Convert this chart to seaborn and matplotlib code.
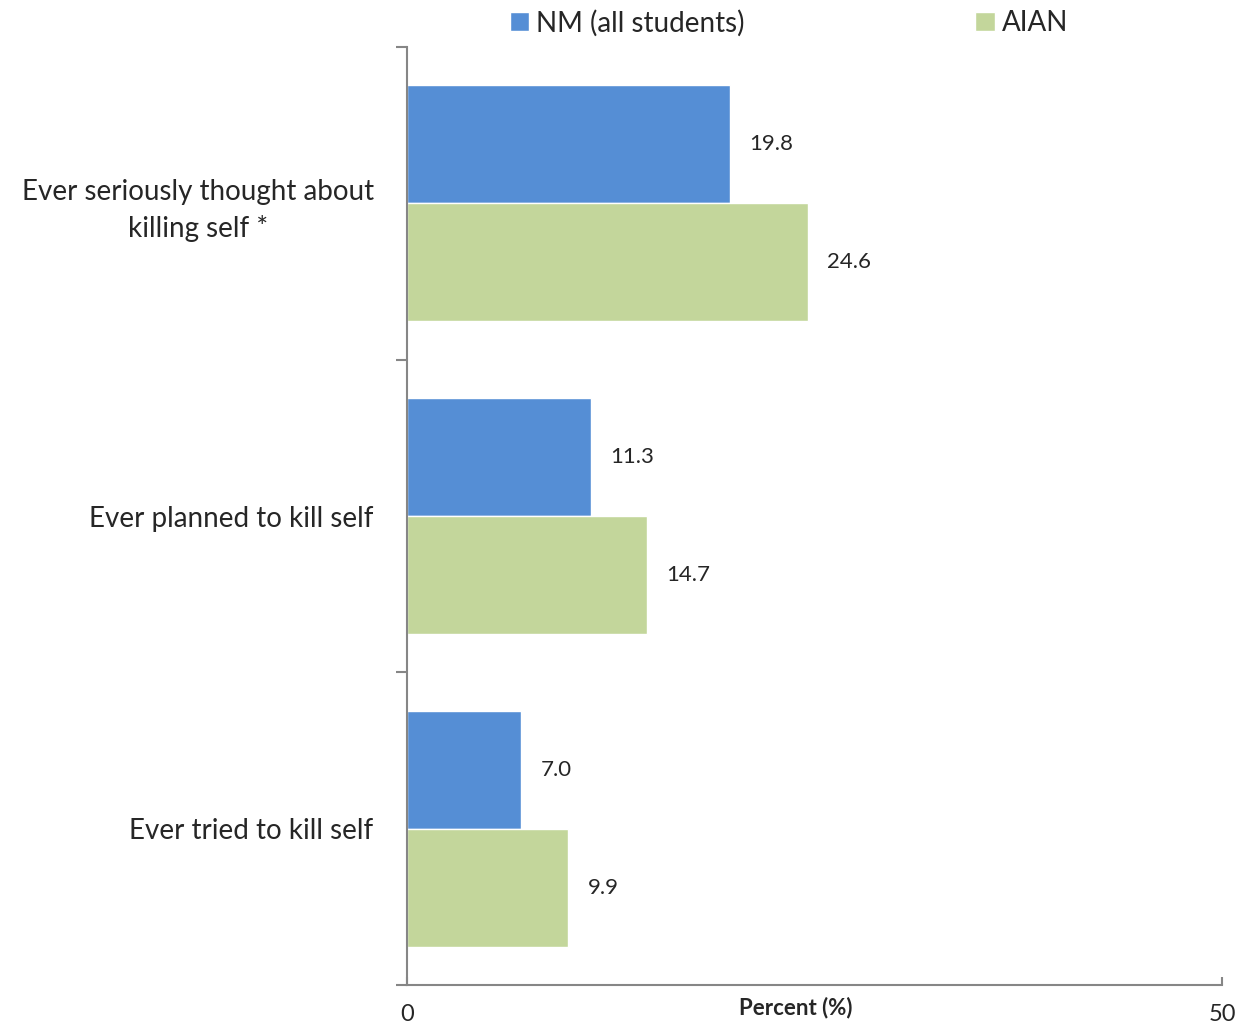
import matplotlib
matplotlib.use("Agg")
import matplotlib.pyplot as plt
import seaborn as sns
import pandas as pd
from matplotlib.patches import Patch

categories = ["Ever seriously thought about\nkilling self *", "Ever planned to kill self", "Ever tried to kill self"]
series_names = ["NM (all students)", "AIAN"]
nm_values = [19.8, 11.3, 7.0]
aian_values = [24.6, 14.7, 9.9]
colors = ["#558ED5", "#C3D69B"]

rows = []
for c, v in zip(categories, nm_values):
    rows.append({"cat": c, "group": series_names[0], "val": v})
for c, v in zip(categories, aian_values):
    rows.append({"cat": c, "group": series_names[1], "val": v})
df = pd.DataFrame(rows)

sns.set_style("white")
plt.rcParams['font.family'] = ['Lato', 'DejaVu Sans']

fig = plt.figure(figsize=(12.47, 10.28), dpi=100)
ax = fig.add_axes([407/1247, 43/1028, 815/1247, 938/1028])

sns.barplot(data=df, y="cat", x="val", hue="group", orient="h",
            palette=colors, width=0.754, saturation=1, ax=ax, legend=False)

ax.set_xlim(0, 50)
ax.set_ylim(2.5, -0.5)

# value labels
for container in ax.containers:
    ax.bar_label(container, fmt="%.1f", padding=14, fontsize=16)

# spines
for s in ["top", "right"]:
    ax.spines[s].set_visible(False)
for s in ["left", "bottom"]:
    ax.spines[s].set_color("#868686")
    ax.spines[s].set_linewidth(1.5)

# y ticks: labels at centers, marks at boundaries
ax.set_yticks(range(len(categories)))
ax.set_yticklabels(categories, fontsize=20, multialignment="center", linespacing=1.45)
ax.tick_params(axis="y", which="major", left=True, length=0, pad=24)
ax.set_yticks([-0.5, 0.5, 1.5, 2.5], minor=True)
ax.tick_params(axis="y", which="minor", left=True, length=8, width=1.5, color="#868686", direction="out")

ax.set_xticks([0, 50])
ax.set_xticklabels(["0", "50"], fontsize=17)
ax.tick_params(axis="x", bottom=True, length=6, width=1.5, color="#868686", direction="in", pad=14)

ax.set_xlabel("")
ax.set_ylabel("")
ax.text(0.477, -0.024, "Percent (%)", transform=ax.transAxes, ha="center", va="center",
        fontsize=16, fontweight="bold")

handles = [Patch(facecolor=colors[0], label=series_names[0]),
           Patch(facecolor=colors[1], label=series_names[1])]
fig.legend(handles=handles, loc="center", bbox_to_anchor=(789/1247, 1 - 23/1028), ncol=2,
           frameon=False, fontsize=20, handlelength=0.7, handleheight=0.7,
           handletextpad=0.25, columnspacing=8.3, borderaxespad=0)

fig.savefig("out.png", dpi=100)
